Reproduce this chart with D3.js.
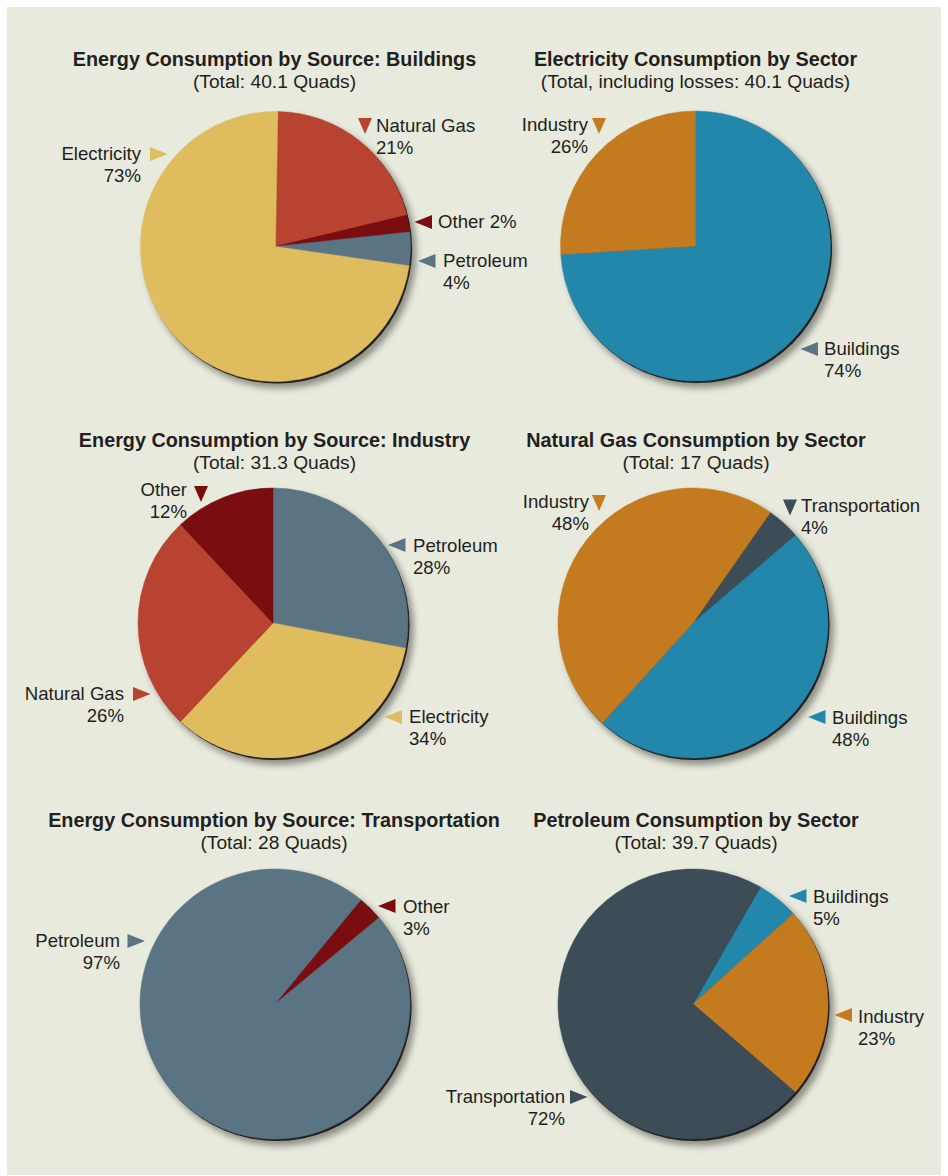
<!DOCTYPE html>
<html>
<head>
<meta charset="utf-8">
<script src="https://cdn.jsdelivr.net/npm/d3@7"></script>
<style>
  body { margin: 0; background: #ffffff; }
  text { font-family: "Liberation Sans", Arial, sans-serif; fill: #231f20; }
</style>
</head>
<body>
<svg id="chart"></svg>
<script>
var W = 948, H = 1176;

// ---- data ----
var buildingsSources = ["Natural Gas", "Other", "Petroleum", "Electricity"];
var buildingsShares = [21, 2, 4, 73];

var electricitySectors = ["Buildings", "Industry"];
var electricityShares = [74, 26];

var industrySources = ["Petroleum", "Electricity", "Natural Gas", "Other"];
var industryShares = [28, 34, 26, 12];

var gasSectors = ["Transportation", "Buildings", "Industry"];
var gasShares = [4, 48, 48];

var transportSources = ["Other", "Petroleum"];
var transportShares = [3, 97];

var petroleumSectors = ["Buildings", "Industry", "Transportation"];
var petroleumShares = [5, 23, 72];

var titles = [
    "Energy Consumption by Source: Buildings",
    "Electricity Consumption by Sector",
    "Energy Consumption by Source: Industry",
    "Natural Gas Consumption by Sector",
    "Energy Consumption by Source: Transportation",
    "Petroleum Consumption by Sector"
];
var subtitles = [
    "(Total: 40.1 Quads)",
    "(Total, including losses: 40.1 Quads)",
    "(Total: 31.3 Quads)",
    "(Total: 17 Quads)",
    "(Total: 28 Quads)",
    "(Total: 39.7 Quads)"
];

var color = d3.scaleOrdinal()
    .domain(["Electricity", "Natural Gas", "Other", "Petroleum", "Buildings", "Industry", "Transportation"])
    .range(["#dfbc5e", "#b84331", "#7a0d10", "#5a7484", "#2287aa", "#c47b1f", "#3c4d58"]);

// ---- layout (label offsets from pie centre: triangle t, text l) ----
var R = 135;
var charts = [
    {names: buildingsSources, values: buildingsShares, start: 1, cx: 275.5, cy: 246.5, tx: 274.5, ty: 66,
     labels: [
        {dir: "down", t: [89.5, -120.5], l: [100.5, -114.5], anchor: "start"},
        {dir: "left", t: [148, -24.5], l: [162.5, -18.5], anchor: "start", oneLine: true},
        {dir: "left", t: [151.5, 14.5], l: [167.5, 20.5], anchor: "start"},
        {dir: "right", t: [-117, -92.5], l: [-134.5, -86.5], anchor: "end"}
     ]},
    {names: electricitySectors, values: electricityShares, start: 0, cx: 695.5, cy: 246, tx: 695.5, ty: 66,
     labels: [
        {dir: "left", t: [114, 103], l: [128.5, 109], anchor: "start", color: "#5a7484"},
        {dir: "down", t: [-96.5, -120], l: [-107.5, -115], anchor: "end"}
     ]},
    {names: industrySources, values: industryShares, start: 0, cx: 273, cy: 623, tx: 274.5, ty: 447,
     labels: [
        {dir: "left", t: [124, -78], l: [140, -71], anchor: "start"},
        {dir: "left", t: [120.5, 94], l: [136, 100], anchor: "start"},
        {dir: "right", t: [-131.5, 71], l: [-149, 77], anchor: "end"},
        {dir: "down", t: [-72, -129], l: [-86, -127], anchor: "end"}
     ]},
    {names: gasSectors, values: gasShares, start: 35, cx: 693, cy: 623, tx: 696, ty: 447,
     labels: [
        {dir: "down", t: [97, -115.5], l: [108, -111], anchor: "start"},
        {dir: "left", t: [124, 94], l: [139, 101], anchor: "start"},
        {dir: "down", t: [-94, -120], l: [-104, -115], anchor: "end"}
     ]},
    {names: transportSources, values: transportShares, start: 39.5, cx: 275, cy: 1004, tx: 274, ty: 827,
     labels: [
        {dir: "left", t: [112, -98], l: [128, -91], anchor: "start"},
        {dir: "right", t: [-139, -63], l: [-155, -57], anchor: "end"}
     ]},
    {names: petroleumSectors, values: petroleumShares, start: 30, cx: 693, cy: 1004, tx: 696, ty: 827,
     labels: [
        {dir: "left", t: [105, -108], l: [120, -101], anchor: "start"},
        {dir: "left", t: [150.5, 11], l: [165, 19], anchor: "start"},
        {dir: "right", t: [-114.5, 93], l: [-128, 99], anchor: "end"}
     ]}
];

var svg = d3.select("#chart").attr("width", W).attr("height", H);

var defs = svg.append("defs");
defs.append("filter").attr("id", "soft")
    .attr("x", "-20%").attr("y", "-20%").attr("width", "140%").attr("height", "140%")
    .append("feGaussianBlur").attr("stdDeviation", 3.2);

svg.append("rect")
    .attr("x", 7).attr("y", 7)
    .attr("width", W - 14).attr("height", H - 8)
    .attr("fill", "#e8eadd");

var arc = d3.arc().innerRadius(0).outerRadius(R);

var triangle = function(dir) {
    // small pointer triangle centred on 0,0
    if (dir === "left") return "M-9,0L8.5,-7L8.5,7Z";
    if (dir === "right") return "M9,0L-8.5,-7L-8.5,7Z";
    return "M0,8L-7,-8L7,-8Z";
};

charts.forEach(function(c, i) {
    var g = svg.append("g").attr("transform", "translate(" + c.cx + "," + c.cy + ")");

    // title + subtitle
    svg.append("text")
        .attr("x", c.tx).attr("y", c.ty)
        .attr("text-anchor", "middle")
        .attr("font-size", 19.8).attr("font-weight", "bold")
        .text(titles[i]);
    svg.append("text")
        .attr("x", c.tx).attr("y", c.ty + 22)
        .attr("text-anchor", "middle")
        .attr("font-size", 19.2)
        .text(subtitles[i]);

    // shadow and dark rim
    g.append("circle")
        .attr("cx", 5).attr("cy", 6).attr("r", R + 1)
        .attr("fill", "#3a3a32").attr("opacity", 0.5)
        .attr("filter", "url(#soft)");
    g.append("circle")
        .attr("cx", 1.6).attr("cy", 2).attr("r", R)
        .attr("fill", "#231f20");

    var a0 = c.start * Math.PI / 180;
    var pie = d3.pie().sort(null).value(d => d.v)
        .startAngle(a0).endAngle(a0 + 2 * Math.PI);
    var rows = c.names.map((n, k) => ({name: n, v: c.values[k]}));

    g.selectAll("path.slice")
        .data(pie(rows))
        .enter().append("path")
        .attr("class", "slice")
        .attr("d", arc)
        .attr("fill", d => color(d.data.name))
        .attr("stroke", d => color(d.data.name))
        .attr("stroke-width", 0.5);

    // labels
    c.labels.forEach(function(lb, k) {
        var row = rows[k];
        g.append("path")
            .attr("transform", "translate(" + lb.t[0] + "," + lb.t[1] + ")")
            .attr("d", triangle(lb.dir))
            .attr("fill", lb.color || color(row.name));
        var txt = g.append("text")
            .attr("x", lb.l[0]).attr("y", lb.l[1])
            .attr("text-anchor", lb.anchor)
            .attr("font-size", 18.6);
        if (lb.oneLine) {
            txt.text(row.name + " " + row.v + "%");
        } else {
            txt.append("tspan").attr("x", lb.l[0]).text(row.name);
            txt.append("tspan").attr("x", lb.l[0]).attr("dy", 22).text(row.v + "%");
        }
    });
});
</script>
</body>
</html>
